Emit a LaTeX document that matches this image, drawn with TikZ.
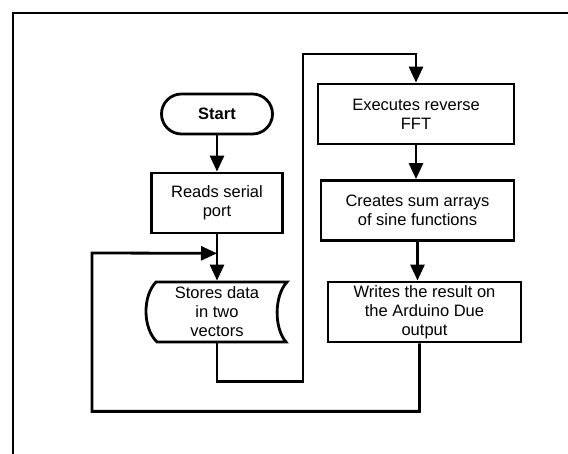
\documentclass[tikz,border=0pt]{standalone}
\usepackage{fontspec}
\setmainfont{Liberation Sans}
\usetikzlibrary{calc}
\usetikzlibrary{arrows.meta}

\begin{document}
\begin{tikzpicture}[x=1pt, y=1pt, line width=2.8pt,
  every node/.style={font=\fontsize{16.5}{19}\selectfont, align=center},
  block/.style={draw, rectangle, minimum height=60pt, inner sep=2pt},
  flow/.style={-{Triangle[length=16pt, width=14pt]}}]
\useasboundingbox (0,0) rectangle (568,454);
\clip (0,0) rectangle (568,454);
\draw[line width=2.5pt] (13,-5) -- (13,441) -- (575,441);

\node[draw, rounded corners=20pt, minimum width=111pt, minimum height=40pt,
  font=\fontsize{16.5}{19}\selectfont\bfseries] (start) at (217,340) {Start};
\node[block, minimum width=131pt] (reads) at (217,251) {Reads serial\\ port};
\node[minimum width=131pt, minimum height=60pt] (stores) at (217,142) {Stores data\\ in two\\ vectors};
\draw (156,172) -- (287,172) .. controls (274,158) and (274,126) .. (286,112)
  -- (157,112) .. controls (142.5,126) and (142.5,158) .. (156,172) -- cycle;
\node[block, minimum width=196pt] (exec) at (416,340) {Executes reverse\\ FFT};
\node[block, minimum width=193pt] (creates) at (417.5,243.5) {Creates sum arrays\\ of sine functions};
\node[block, minimum width=193pt] (writes) at (424.5,142) {Writes the result on\\ the Arduino Due\\ output};

\coordinate (join) at ($(reads.south)!0.41!(stores.north)$);
\draw[flow] (start.south) -- (reads.north);
\draw[flow] (reads.south) -- (stores.north);
\draw[flow] (stores.south) -- ++(0,-38) -| (303,400) -| (exec.north);
\draw[flow] (exec.south) -- (exec.south |- creates.north);
\draw[flow] (creates.south) -- (creates.south |- writes.north);
\draw[flow] ($(writes.south)+(-5,0)$) -- ++(0,-68) -| (92,201) -- (join);
\end{tikzpicture}
\end{document}
